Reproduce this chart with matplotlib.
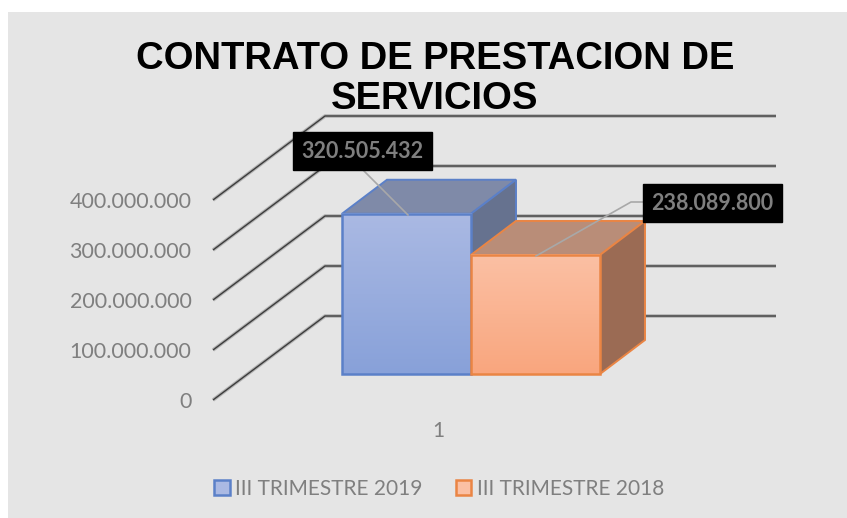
import numpy as np
import matplotlib
matplotlib.use("Agg")
import matplotlib.pyplot as plt
from matplotlib.patches import Polygon

title = "CONTRATO DE PRESTACION DE\nSERVICIOS"
series = ["III TRIMESTRE 2019", "III TRIMESTRE 2018"]
values = [320505432, 238089800]
value_labels = ["320.505.432", "238.089.800"]
y_ticks = [0, 100000000, 200000000, 300000000, 400000000]
y_tick_labels = ["0", "100.000.000", "200.000.000", "300.000.000", "400.000.000"]
categories = [1]

W, H = 847, 518
BG = "#e5e5e5"
GREY = "#7f7f7f"
# fill top/bottom of the front gradient, edge, top face, side face
STYLES = [
    ("#aab9e3", "#88a1d9", "#5b80c8", "#7f8aa8", "#66728f"),
    ("#fbc0a4", "#f9a67e", "#ea8544", "#b98d78", "#9b6b54"),
]

fig = plt.figure(figsize=(W / 100, H / 100), dpi=100, facecolor="white")
bg = fig.add_axes([8 / W, 0, (W - 8) / W, (H - 12) / H])
bg.set_facecolor(BG)
bg.set_xticks([])
bg.set_yticks([])
for s in bg.spines.values():
    s.set_visible(False)

# axes frame = front plane of the chart, 213..776 px wide, value 0 at y=400, 400M at y=200
ax = fig.add_axes([213 / W, (H - 400) / H, 563 / W, 200 / H])
ax.patch.set_visible(False)
PX_X = 1 / 563
PX_Y = 400000000 / 200
for s in ax.spines.values():
    s.set_visible(False)


def px(x_px):
    return 1 + (x_px - 438) * PX_X


# gridlines: diagonal on the side wall, then straight along the back wall
for t in y_ticks:
    xs = [px(213), px(325), px(776)]
    ys = [t, t + 84 * PX_Y, t + 84 * PX_Y]
    ax.plot(xs, ys, color="#8a8a8a", lw=2.6, alpha=0.55, clip_on=False, zorder=1,
            solid_capstyle="butt")
    ax.plot(xs, ys, color="#3c3c3c", lw=1.0, clip_on=False, zorder=1.1,
            solid_capstyle="butt")

ax.set_yticks(y_ticks)
ax.set_yticklabels(y_tick_labels, family="Lato", fontsize=15.5, color=GREY)
ax.set_xticks([1])
ax.set_xticklabels([str(c) for c in categories], family="Lato", fontsize=15, color=GREY)
ax.tick_params(axis="y", length=0, pad=15.5)
ax.tick_params(axis="x", length=0, pad=15)

# bars, first series first so the second one's front covers its side face
dep_x, dep_y = 45 * PX_X, 34 * PX_Y
bar_w = 129 * PX_X
lefts = [px(342), px(471)]
b = 26 * PX_Y  # bar floor sits above the front corner of the side wall
for i in [0, 1]:
    l, v = lefts[i], values[i]
    fill, fill2, edge, top_c, side_c = STYLES[i]
    r = l + bar_w
    top = b + v
    z = 3 + i * 2
    ax.add_patch(Polygon([(l, top), (l + dep_x, top + dep_y), (r + dep_x, top + dep_y), (r, top)],
                         fc=top_c, ec=edge, lw=1.4, zorder=z, clip_on=False))
    ax.add_patch(Polygon([(r, b), (r + dep_x, b + dep_y), (r + dep_x, top + dep_y), (r, top)],
                         fc=side_c, ec=edge, lw=1.4, zorder=z, clip_on=False))
    ax.bar(l, v, bar_w, bottom=b, align="edge", fc="none", ec=edge, lw=1.8,
           zorder=z + 0.2, clip_on=False)
    c1 = np.array(matplotlib.colors.to_rgb(fill))
    c2 = np.array(matplotlib.colors.to_rgb(fill2))
    grad = np.linspace(0, 1, 64)[:, None, None] * (c1 - c2) + c2
    ax.imshow(grad, extent=(l, r, b, top), origin="lower", aspect="auto", zorder=z + 0.1,
              clip_on=False)
ax.set_xlim(1 - 225 * PX_X, 1 + 338 * PX_X)
ax.set_ylim(0, 400000000)

# data labels with leader lines
ax.plot([px(408), px(362)], [(400 - 215) * PX_Y, (400 - 169) * PX_Y], color="#a8a8a8", lw=1.2,
        zorder=8, clip_on=False)
ax.plot([px(536), px(631), px(645)], [(400 - 256) * PX_Y, (400 - 202) * PX_Y, (400 - 202) * PX_Y],
        color="#a8a8a8", lw=1.2, zorder=8, clip_on=False)
label_pos = [(362, 151), (712, 203)]
for (x_p, y_p), txt in zip(label_pos, value_labels):
    ax.text(px(x_p), (400 - y_p) * PX_Y, txt, family="Lato", fontweight="bold", fontsize=15.5,
            color=GREY, ha="center", va="center", zorder=9, clip_on=False)
    x0, x1 = x_p - 69, x_p + 70
    y0, y1 = y_p - 19, y_p + 19
    ax.fill([px(x0), px(x1), px(x1), px(x0)],
            [(400 - y0) * PX_Y, (400 - y0) * PX_Y, (400 - y1) * PX_Y, (400 - y1) * PX_Y],
            color="black", zorder=8.5, clip_on=False)

fig.text(435 / W, 1 - 79 / H, title, family="Liberation Sans", fontweight="bold", fontsize=27.5,
         color="black", ha="center", va="center", linespacing=1.14)

# legend
handles = [plt.Rectangle((0, 0), 1, 1, fc=STYLES[i][0], ec=STYLES[i][2], lw=1.8) for i in range(2)]
fig.legend(handles, series, loc="center", bbox_to_anchor=(439 / W, 1 - 489 / H), ncol=2,
           frameon=False, prop={"family": "Lato", "size": 15}, labelcolor=GREY,
           handlelength=0.75, handleheight=0.75, handletextpad=0.25, columnspacing=1.6)

fig.savefig("out.png", dpi=100, facecolor="white")
